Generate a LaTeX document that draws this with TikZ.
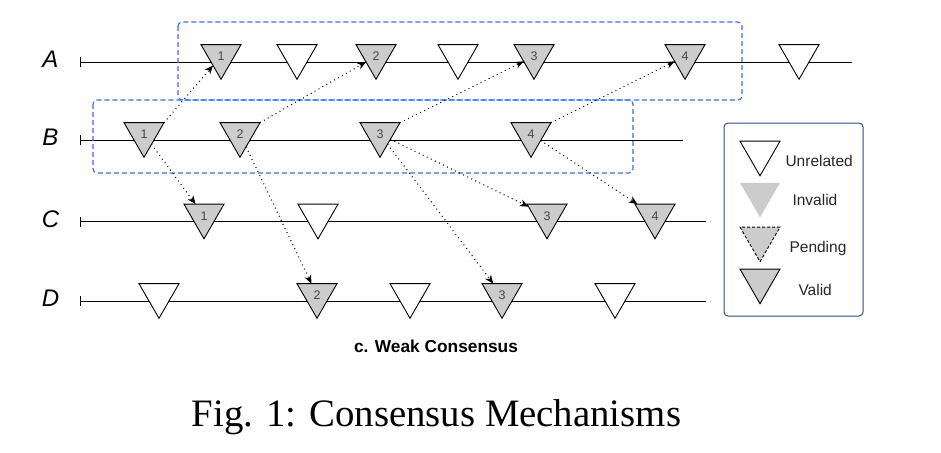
\documentclass[tikz,border=0pt]{standalone}
\usepackage{fontspec}
\setmainfont{Liberation Serif}
\setsansfont{Liberation Sans}
\usetikzlibrary{shapes.geometric,arrows.meta}
\definecolor{tgray}{HTML}{CCCCCC}
\definecolor{boxblue}{HTML}{3F6FE0}
\definecolor{legborder}{HTML}{2E4F7E}
\begin{document}
\begin{tikzpicture}[x=1pt,y=-1pt,
  tri/.style={regular polygon, regular polygon sides=3, shape border rotate=180,
    minimum size=46.2pt, inner sep=0pt, outer sep=0pt, draw=black, line width=0.9pt,
    font=\sffamily\fontsize{12.5}{12.5}\selectfont, text=black!72},
  valid/.style={tri, fill=tgray},
  unrel/.style={tri, fill=white},
  timeline/.style={line width=0.9pt, {Bar[width=10pt]}-},
  msg/.style={line width=1.1pt, dash pattern=on 0.9pt off 3.6pt, -{Stealth[length=8.5pt,width=7pt,inset=2.5pt]}},
  rowlabel/.style={anchor=base, font=\sffamily\itshape\fontsize{24}{24}\selectfont},
  grp/.style={boxblue, line width=1.1pt, dash pattern=on 5pt off 3pt, rounded corners=4pt},
  legtext/.style={anchor=base west, font=\sffamily\fontsize{15.5}{15.5}\selectfont, text=black!85}
]
\useasboundingbox (0,0) rectangle (941,452);

% row labels
\node[rowlabel] (lA) at (50.5,67.5) {A};
\node[rowlabel] (lB) at (50.5,145.5) {B};
\node[rowlabel] (lC) at (50.5,227) {C};
\node[rowlabel] (lD) at (50.5,306.5) {D};

% timelines
\coordinate (sA) at (80,62);   \coordinate (eA) at (852,62);
\coordinate (sB) at (80,140);  \coordinate (eB) at (683,140);
\coordinate (sC) at (80,221.5);\coordinate (eC) at (706,221.5);
\coordinate (sD) at (80,301);  \coordinate (eD) at (706,301);
\draw[timeline] (sA) -- (eA);
\draw[timeline] (sB) -- (eB);
\draw[timeline] (sC) -- (eC);
\draw[timeline] (sD) -- (eD);

% group boxes
\draw[grp] (178,22) rectangle (742,100);
\draw[grp] (93,100) rectangle (633,173);

% row A
\node[valid] (A1) at (221,56.2) {1};
\node[unrel] (Au1) at (297,56.2) {};
\node[valid] (A2) at (376,56.2) {2};
\node[unrel] (Au2) at (458,56.2) {};
\node[valid] (A3) at (534,56.2) {3};
\node[valid] (A4) at (685,56.2) {4};
\node[unrel] (Au3) at (799,56.2) {};
% row B
\node[valid] (B1) at (144,134.2) {1};
\node[valid] (B2) at (240,134.2) {2};
\node[valid] (B3) at (380,134.2) {3};
\node[valid] (B4) at (531,134.2) {4};
% row C
\node[valid] (C1) at (204,215.7) {1};
\node[unrel] (Cu1) at (318,215.7) {};
\node[valid] (C3) at (547,215.7) {3};
\node[valid] (C4) at (655,215.7) {4};
% row D
\node[unrel] (Du1) at (159,295.2) {};
\node[valid] (D2) at (317,295.2) {2};
\node[unrel] (Du2) at (410,295.2) {};
\node[valid] (D3) at (502,295.2) {3};
\node[unrel] (Du3) at (615,295.2) {};

% messages
\draw[msg] (B1.corner 2) -- (A1);
\draw[msg] (B2.corner 2) -- (A2);
\draw[msg] (B3.corner 2) -- (A3);
\draw[msg] (B4.corner 2) -- (A4);
\draw[msg] (B1) -- (C1);
\draw[msg] (B2) -- (D2);
\draw[msg] (B3) -- (C3);
\draw[msg] (B3) -- (D3);
\draw[msg] (B4) -- (C4);

% legend
\node[draw=legborder, line width=1pt, rounded corners=4pt, minimum width=139pt, minimum height=193pt, inner sep=0pt] (legend) at (793.5,219.5) {};
\node[unrel] (kU) at (760,152.7) {};
\node[tri, fill=tgray, draw=none] (kI) at (760,194.3) {};
\node[tri, fill=tgray, dash pattern=on 3pt off 2pt] (kP) at (760,238.6) {};
\node[valid] (kV) at (760,280.6) {};
\node[legtext] (tU) at (782,166) {Unrelated};
\node[legtext] (tI) at (789,205) {Invalid};
\node[legtext] (tP) at (786,252.5) {Pending};
\node[legtext] (tV) at (795,295) {Valid};

% captions
\node[anchor=base, font=\sffamily\bfseries\fontsize{17.3}{17.3}\selectfont] (sub) at (436,352) {c. Weak Consensus};
\node[anchor=base, font=\rmfamily\fontsize{38.8}{38.8}\selectfont] (cap) at (436.5,426.7) {Fig. 1: Consensus Mechanisms};
\end{tikzpicture}
\end{document}
